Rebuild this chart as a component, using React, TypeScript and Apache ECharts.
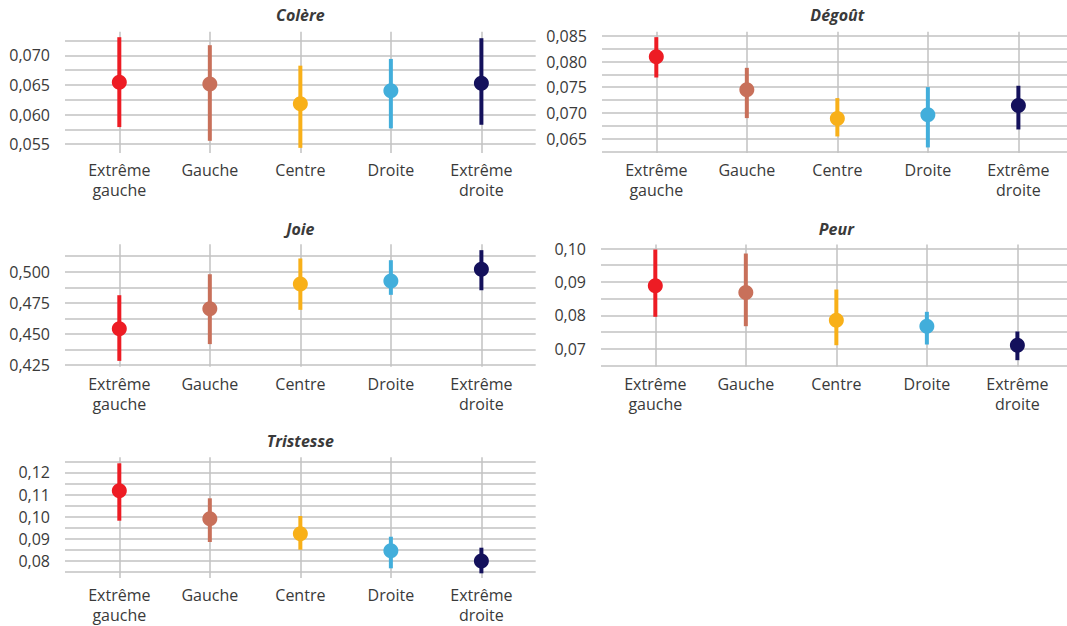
import React, { useEffect, useRef } from 'react';
import * as echarts from 'echarts';

const categories = ['Extrême\ngauche', 'Gauche', 'Centre', 'Droite', 'Extrême\ndroite'];
const groupColors = ['#ED1C24', '#C8705A', '#F8B019', '#42AEDB', '#14115C'];

// Colère
const colereMean = [0.06545, 0.06516, 0.06183, 0.06403, 0.06528];
const colereLow = [0.05788, 0.05556, 0.05437, 0.05766, 0.05827];
const colereHigh = [0.07307, 0.07172, 0.06826, 0.0694, 0.0729];
const colereTicks = [0.055, 0.0575, 0.06, 0.0625, 0.065, 0.0675, 0.07, 0.0725];
const colereLabels = [0.055, 0.06, 0.065, 0.07];

// Dégoût
const degoutMean = [0.08091, 0.0745, 0.06892, 0.06964, 0.07144];
const degoutLow = [0.07689, 0.06899, 0.06542, 0.06328, 0.06678];
const degoutHigh = [0.08474, 0.07877, 0.07288, 0.07502, 0.07528];
const degoutTicks = [0.0625, 0.065, 0.0675, 0.07, 0.0725, 0.075, 0.0775, 0.08, 0.0825, 0.085];
const degoutLabels = [0.065, 0.07, 0.075, 0.08, 0.085];

// Joie
const joieMean = [0.454, 0.4701, 0.4902, 0.4926, 0.5021];
const joieLow = [0.4282, 0.4417, 0.4693, 0.4814, 0.4851];
const joieHigh = [0.4811, 0.498, 0.5107, 0.5093, 0.5174];
const joieTicks = [0.425, 0.4375, 0.45, 0.4625, 0.475, 0.4875, 0.5, 0.5125];
const joieLabels = [0.425, 0.45, 0.475, 0.5];

// Peur
const peurMean = [0.08884, 0.08684, 0.07855, 0.07676, 0.07107];
const peurLow = [0.07957, 0.07676, 0.07107, 0.07128, 0.06659];
const peurHigh = [0.0997, 0.0985, 0.08773, 0.08106, 0.07517];
const peurTicks = [0.065, 0.07, 0.075, 0.08, 0.085, 0.09, 0.095, 0.1];
const peurLabels = [0.07, 0.08, 0.09, 0.1];

// Tristesse
const tristesseMean = [0.11172, 0.09908, 0.0923, 0.08462, 0.07997];
const tristesseLow = [0.09817, 0.08855, 0.08507, 0.07667, 0.07441];
const tristesseHigh = [0.12409, 0.10829, 0.10029, 0.09094, 0.08598];
const tristesseTicks = [0.075, 0.08, 0.085, 0.09, 0.095, 0.1, 0.105, 0.11, 0.115, 0.12, 0.125];
const tristesseLabels = [0.08, 0.09, 0.1, 0.11, 0.12];

const panels = [
  { title: 'Colère', mean: colereMean, low: colereLow, high: colereHigh, ticks: colereTicks, labels: colereLabels, min: 0.0535, max: 0.074, dec: 3, left: 65, top: 31.7, height: 121.3, titleY: 15 },
  { title: 'Dégoût', mean: degoutMean, low: degoutLow, high: degoutHigh, ticks: degoutTicks, labels: degoutLabels, min: 0.0622, max: 0.0858, dec: 3, left: 602, top: 31.7, height: 121.3, titleY: 15 },
  { title: 'Joie', mean: joieMean, low: joieLow, high: joieHigh, ticks: joieTicks, labels: joieLabels, min: 0.4235, max: 0.5222, dec: 3, left: 65, top: 244.2, height: 122.5, titleY: 229 },
  { title: 'Peur', mean: peurMean, low: peurLow, high: peurHigh, ticks: peurTicks, labels: peurLabels, min: 0.0647, max: 0.1012, dec: 2, left: 601, top: 244.5, height: 122, titleY: 229 },
  { title: 'Tristesse', mean: tristesseMean, low: tristesseLow, high: tristesseHigh, ticks: tristesseTicks, labels: tristesseLabels, min: 0.0723, max: 0.1268, dec: 2, left: 65, top: 457.3, height: 120.7, titleY: 441 },
];

const PANEL_W = 470.7;
const FONT = '"Open Sans", "Noto Sans", sans-serif';
const GRID_COLOR = '#c2c2c2';
const TEXT_COLOR = '#3a3a3a';

export default function App() {
  const ref = useRef<HTMLDivElement>(null);
  useEffect(() => {
    document.body.style.margin = '0';
    const chart = echarts.init(ref.current!, null, { renderer: 'svg' });
    const grid: any[] = [];
    const xAxis: any[] = [];
    const yAxis: any[] = [];
    const series: any[] = [];
    const graphic: any[] = [];
    panels.forEach((p, gi) => {
      grid.push({ left: p.left, top: p.top, width: PANEL_W, height: p.height, containLabel: false, outerBoundsMode: 'none' });
      xAxis.push({
        type: 'value', gridIndex: gi, min: -0.6, max: 4.6,
        axisLine: { show: false },
        axisTick: { show: false, customValues: [0, 1, 2, 3, 4] },
        axisLabel: {
          customValues: [0, 1, 2, 3, 4],
          formatter: (v: number) => categories[Math.round(v)],
          fontFamily: FONT, fontSize: 16, color: TEXT_COLOR, lineHeight: 20, margin: 7,
        },
        splitLine: { show: true, lineStyle: { color: GRID_COLOR, width: 1.5 } },
      });
      yAxis.push({
        type: 'value', gridIndex: gi, min: p.min, max: p.max,
        axisLine: { show: false },
        axisTick: { show: false, customValues: p.ticks },
        axisLabel: {
          customValues: p.labels,
          formatter: (v: number) => v.toFixed(p.dec).replace('.', ','),
          fontFamily: FONT, fontSize: 16, color: TEXT_COLOR, margin: 15,
        },
        splitLine: { show: true, lineStyle: { color: GRID_COLOR, width: 1.5 } },
      });
      series.push({
        type: 'custom', xAxisIndex: gi, yAxisIndex: gi, z: 3,
        data: p.mean.map((_, i) => [i, p.low[i], p.high[i]]),
        encode: { x: 0, y: [1, 2] },
        renderItem: (params: any, api: any) => {
          const x = api.value(0);
          const a = api.coord([x, api.value(1)]);
          const b = api.coord([x, api.value(2)]);
          return {
            type: 'line',
            shape: { x1: a[0], y1: a[1], x2: b[0], y2: b[1] },
            style: { stroke: groupColors[params.dataIndex], lineWidth: 4, lineCap: 'butt' },
          };
        },
      });
      series.push({
        type: 'scatter', xAxisIndex: gi, yAxisIndex: gi, z: 4, symbolSize: 15,
        data: p.mean.map((m, i) => ({ value: [i, m], itemStyle: { color: groupColors[i], opacity: 1 } })),
      });
      graphic.push({
        type: 'text', x: p.left + PANEL_W / 2, y: p.titleY,
        style: {
          text: p.title, fill: TEXT_COLOR,
          font: `italic bold 16px ${FONT}`,
          textAlign: 'center', textVerticalAlign: 'middle', align: 'center', verticalAlign: 'middle',
        },
      });
    });
    chart.setOption({ animation: false, grid, xAxis, yAxis, series, graphic });
    return () => chart.dispose();
  }, []);
  return <div ref={ref} style={{ width: 1067, height: 626 }} />;
}
